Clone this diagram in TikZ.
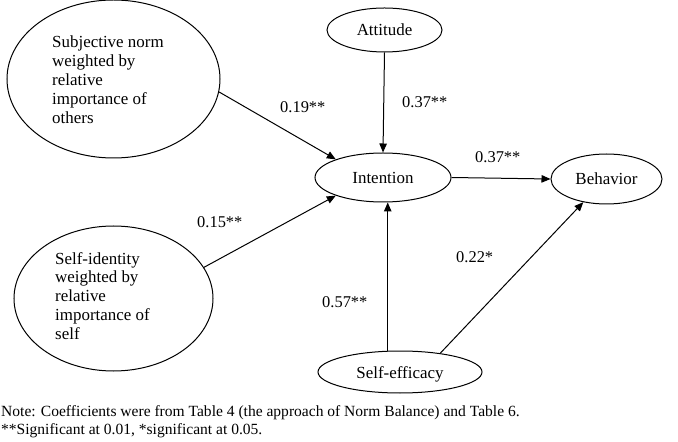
\documentclass[tikz,border=0pt]{standalone}
\usepackage{fontspec}
\setmainfont{Liberation Serif}
\usetikzlibrary{arrows.meta,shapes.geometric}
\begin{document}
\begin{tikzpicture}[x=1bp,y=-1bp,
  oval/.style={draw,line width=1bp,ellipse,inner sep=0pt,
    font=\fontsize{17}{19}\selectfont,text height=12bp,text depth=0pt},
  blocktext/.style={inner sep=0pt,align=left,font=\fontsize{17}{19}\selectfont,anchor=west},
  coef/.style={inner sep=0pt,anchor=base west,font=\fontsize{16.5}{19}\selectfont},
  notetext/.style={inner sep=0pt,anchor=base west,font=\fontsize{15.6}{18}\selectfont},
  arr/.style={line width=1bp,-{Triangle[length=9bp,width=7.5bp]}}]
\useasboundingbox (0,0) rectangle (678,442);
% nodes
\node[oval,minimum width=213bp,minimum height=158bp] (sn) at (113.5,79) {};
\node[blocktext] (snt) at (52,80) {Subjective norm\\weighted by\\relative\\importance of\\others};
\node[oval,minimum width=199bp,minimum height=145bp] (si) at (113.5,298.5) {};
\node[blocktext] (sit) at (55,296) {Self-identity\\weighted by\\relative\\importance of\\self};
\node[oval,minimum width=115bp,minimum height=44bp] (att) at (384.5,30) {Attitude};
\node[oval,minimum width=136bp,minimum height=49bp] (int) at (383,177.5) {Intention};
\node[oval,minimum width=111bp,minimum height=50bp] (beh) at (606.5,179) {Behavior};
\node[oval,minimum width=164bp,minimum height=42bp] (se) at (400,372) {Self-efficacy};
% connectors
\draw[arr] (sn.-7) -- (int.159);
\draw[arr] (si.19) -- (int.201);
\draw[arr] (att.south) -- (int.north);
\draw[arr] (int.east) -- (beh.west);
\draw[arr] (se.120) -- (se.120 |- int.south);
\draw[arr] (se.25) -- (beh.225);
% coefficients
\node[coef] (c1) at (280,113) {0.19**};
\node[coef] (c2) at (402,108) {0.37**};
\node[coef] (c3) at (475,163) {0.37**};
\node[coef] (c4) at (197,228) {0.15**};
\node[coef] (c5) at (322,308) {0.57**};
\node[coef] (c6) at (456,263) {0.22*};
% note
\node[notetext] (n1) at (1,416) {Note: Coefficients were from Table 4 (the approach of Norm Balance) and Table 6.};
\node[notetext] (n2) at (1,434) {**Significant at 0.01, *significant at 0.05.};
\end{tikzpicture}
\end{document}
